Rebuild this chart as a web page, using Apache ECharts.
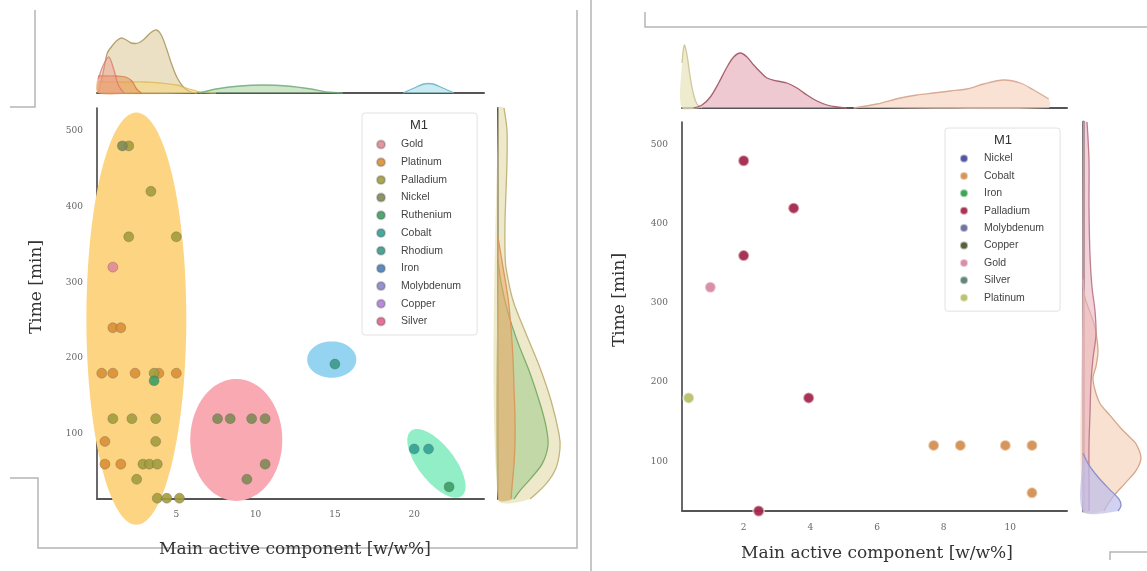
<!DOCTYPE html>
<html><head><meta charset="utf-8">
<script src="https://cdn.jsdelivr.net/npm/echarts@6/dist/echarts.min.js"></script>
<style>html,body{margin:0;padding:0;background:#fff}#c{width:1147px;height:571px}</style>
</head><body><div id="c"></div><script>
// ---------------- DATA: left panel (11 metals) ----------------
const leftMetals = ['Gold','Platinum','Palladium','Nickel','Ruthenium','Cobalt','Rhodium','Iron','Molybdenum','Copper','Silver'];
const lGold = [[1.0, 320]];
const lPlatinum = [[0.3,180],[1.0,180],[2.4,180],[3.9,180],[5.0,180],[1.0,240],[1.5,240],[0.5,90],[0.5,60],[1.5,60]];
const lPalladium = [[2.0,480],[3.4,420],[2.0,360],[5.0,360],[3.6,180],[1.0,120],[2.2,120],[3.7,120],[3.7,90],[2.9,60],[3.3,60],[3.8,60],[2.5,40],[3.8,15],[4.4,15],[5.2,15]];
const lNickel = [[1.6,480],[7.6,120],[8.4,120],[9.75,120],[10.6,120],[10.6,60],[9.45,40]];
const lRuthenium = [[3.6,170],[22.2,30]];
const lCobalt = [[20.0,80],[20.9,80]];
const lRhodium = [[15.0,192]];
const lIron = [];
const lMolybdenum = [];
const lCopper = [];
const lSilver = [];
// cluster regions: centre x, centre y, semi-axis u (x,y), semi-axis v (x,y) in data units
const lRegionYellow = [2.48, 252, 3.15, 0, 0, 272];
const lRegionPink = [8.78, 92, 2.9, 0, 0, 80.5];
const lRegionBlue = [14.8, 198, 1.55, 0, 0, 24];
const lRegionGreen = [21.4, 61, 1.6, -43, 0.9, 14.5];
// marginal densities, left panel: top = [x, density], right = [time, density]
const ltPalladium = [[0.08,0],[0.27,12],[0.46,26],[0.65,40],[0.9,46],[1.22,52],[1.53,55],[1.85,53],[2.16,50],[2.6,50],[2.98,54],[3.36,60],[3.74,63],[4.05,58],[4.37,45],[4.68,30],[5.06,15],[5.5,5],[5.95,1],[6.3,0]];
const ltPlatinum = [[0.08,11],[1,11],[2,11],[3,11],[4,10],[5,8],[5.8,4],[6.5,1],[7.5,0]];
const ltGold = [[0.08,17],[0.6,17],[1.2,17],[1.8,16],[2.2,12],[2.5,4],[2.8,0]];
const ltSilver = [[0.08,14],[0.4,28],[0.75,36],[1.05,24],[1.35,8],[1.7,0]];
const ltNickel = [[6.5,0],[7.5,4],[9,7],[10.5,8],[12,7],[13.5,4],[14.5,1],[15.5,0]];
const ltCobalt = [[19.3,0],[20,5],[20.6,9],[21.2,9],[21.8,5],[22.5,0]];
const lrPalladium = [[530,6],[500,9],[460,9],[420,8],[380,7],[340,7],[319,8],[276,15],[232,28],[187,42],[144,53],[100,61],[81,62],[55,58],[34,48],[14,32]];
const lrNickel = [[330,0],[300,3],[260,10],[220,20],[180,32],[140,42],[110,48],[85,50],[60,44],[40,32],[25,22],[14,16]];
const lrPlatinum = [[360,0],[320,5],[280,10],[240,13],[200,15],[160,16],[120,17],[90,17],[60,16],[30,14],[14,13]];

// ---------------- DATA: right panel (9 metals) ----------------
const rightMetals = ['Nickel','Cobalt','Iron','Palladium','Molybdenum','Copper','Gold','Silver','Platinum'];
const rNickel = [];
const rCobalt = [[7.7,120],[8.5,120],[9.85,120],[10.65,120],[10.65,60]];
const rIron = [];
const rPalladium = [[2.0,480],[3.5,420],[2.0,360],[3.95,180],[2.45,37]];
const rMolybdenum = [];
const rCopper = [];
const rGold = [[1.0,320]];
const rSilver = [];
const rPlatinum = [[0.35,180]];
const rtPlatinum = [[0.15,45],[0.22,63],[0.3,53],[0.4,30],[0.5,13],[0.6,4],[0.75,0]];
const rtPalladium = [[0.5,0],[0.75,3],[1.0,11],[1.25,25],[1.5,41],[1.7,51],[1.9,55],[2.1,51],[2.3,43],[2.5,36],[2.7,30],[3.0,27],[3.3,25],[3.6,20],[3.9,13],[4.2,7],[4.5,3],[4.8,1],[5.1,0]];
const rtCobalt = [[5.3,0],[6.0,4],[6.7,10],[7.2,13],[7.7,15],[8.2,17],[8.7,19],[9.2,24],[9.8,28],[10.3,25],[10.7,18],[11.15,9]];
const rrCobalt = [[330,0],[307,2],[285,8],[269,12],[240,15],[220,13],[206,10],[190,12],[173,17],[158,27],[143,37],[130,47],[122,53],[104,58],[88,53],[72,42],[55,30],[42,23],[37,21]];
const rrPalladium = [[529,4],[480,6],[420,6],[360,7],[320,9],[290,12],[260,13],[230,10],[200,8],[160,7],[120,6],[80,6],[37,6]];
const rrNickel = [[110,0],[95,6],[80,15],[65,26],[52,36],[44,38],[37,35]];

// ---------------- STYLE ----------------
const serif = '"DejaVu Serif", serif';
const sans = '"Liberation Sans", Arial, sans-serif';
const leftColors = ['#e08a96','#d98f34','#a29c3c','#7f8a55','#3e9c62','#34a095','#3a9a88','#4a80b8','#8a86c8','#b07fd6','#e0648c'];
const rightColors = ['#4b4b9e','#d49052','#35a050','#a2284c','#6a6aa0','#4d5a32','#d68aa2','#5a8070','#b8c06a'];
const leftData = [lGold,lPlatinum,lPalladium,lNickel,lRuthenium,lCobalt,lRhodium,lIron,lMolybdenum,lCopper,lSilver];
const rightData = [rNickel,rCobalt,rIron,rPalladium,rMolybdenum,rCopper,rGold,rSilver,rPlatinum];

function ellipseSeries(region, color) {
  return {type:'custom', name:'region', xAxisIndex:0, yAxisIndex:0, silent:true, z:1, clip:false,
    data:[[region[0], region[1]]],
    renderItem:function(params, api){
      const cx=region[0], cy=region[1], ux=region[2], uy=region[3], vx=region[4], vy=region[5];
      const pts=[];
      for(let i=0;i<120;i++){const t=i/120*2*Math.PI;
        pts.push(api.coord([cx+ux*Math.cos(t)+vx*Math.sin(t), cy+uy*Math.cos(t)+vy*Math.sin(t)]));}
      return {type:'polygon', shape:{points:pts}, style:{fill:color}};
    }};
}
function kde(name, xi, yi, pts, fill, stroke, vertical, z) {
  return {type:'custom', name:name, xAxisIndex:xi, yAxisIndex:yi, silent:true, z:z||2, clip:false,
    data: pts,
    renderItem:function(params, api){
      if (params.dataIndex !== 0) return null;
      const toXY = p => vertical ? api.coord([p[1], p[0]]) : api.coord([p[0], p[1]]);
      const curve = pts.map(toXY);
      const f = pts[0], l = pts[pts.length-1];
      const b0 = vertical ? api.coord([0, f[0]]) : api.coord([f[0], 0]);
      const b1 = vertical ? api.coord([0, l[0]]) : api.coord([l[0], 0]);
      return {type:'group', children:[
        {type:'polygon', shape:{points:[b0].concat(curve,[b1]), smooth:0.3}, style:{fill:fill}},
        {type:'polyline', shape:{points:curve, smooth:0.3}, style:{stroke:stroke, lineWidth:1.3, fill:null}}
      ]};
    }};
}

const series = [];
series.push(ellipseSeries(lRegionYellow, '#fdd482'));
series.push(ellipseSeries(lRegionPink, '#f8a9b1'));
series.push(ellipseSeries(lRegionBlue, '#94d4f0'));
series.push(ellipseSeries(lRegionGreen, '#92eec6'));
leftMetals.forEach((m,i)=>{
  series.push({type:'scatter', name:m, xAxisIndex:0, yAxisIndex:0, data:leftData[i], symbolSize:10, z:3,
    itemStyle:{color:leftColors[i], opacity:0.9, borderColor:'rgba(90,90,90,0.35)', borderWidth:1}});
});
rightMetals.forEach((m,i)=>{
  series.push({type:'scatter', name:m+' ', xAxisIndex:3, yAxisIndex:3, data:rightData[i], symbolSize:11, z:3,
    itemStyle:{color:rightColors[i], opacity:0.95, borderColor:'rgba(255,255,255,0.55)', borderWidth:2}});
});
// left top marginal
series.push(kde('ltPalladium',1,1,ltPalladium,'rgba(226,208,165,0.65)','#b3a26e',false,2));
series.push(kde('ltPlatinum',1,1,ltPlatinum,'rgba(245,212,115,0.5)','rgba(220,185,85,0.8)',false,3));
series.push(kde('ltGold',1,1,ltGold,'rgba(230,150,90,0.55)','rgba(212,128,70,0.85)',false,4));
series.push(kde('ltSilver',1,1,ltSilver,'rgba(238,150,140,0.4)','rgba(222,120,110,0.8)',false,5));
series.push(kde('ltNickel',1,1,ltNickel,'rgba(165,212,160,0.55)','rgba(110,170,120,0.85)',false,3));
series.push(kde('ltCobalt',1,1,ltCobalt,'rgba(172,226,236,0.65)','rgba(110,180,200,0.9)',false,3));
// left right marginal
series.push(kde('lrPalladium',2,2,lrPalladium,'rgba(228,218,170,0.6)','#c2b47c',true,2));
series.push(kde('lrNickel',2,2,lrNickel,'rgba(150,200,130,0.5)','#7fae6c',true,3));
series.push(kde('lrPlatinum',2,2,lrPlatinum,'rgba(236,168,100,0.55)','#d99a5c',true,4));
// right top marginal
series.push(kde('rtPlatinum',4,4,rtPlatinum,'rgba(232,228,190,0.75)','#cfc89a',false,2));
series.push(kde('rtPalladium',4,4,rtPalladium,'rgba(230,172,184,0.65)','#a8606e',false,3));
series.push(kde('rtCobalt',4,4,rtCobalt,'rgba(247,213,192,0.7)','#d9ab95',false,3));
// right right marginal
series.push(kde('rrCobalt',5,5,rrCobalt,'rgba(246,212,190,0.7)','#d6a68c',true,2));
series.push(kde('rrPalladium',5,5,rrPalladium,'rgba(232,175,190,0.55)','#c07d8e',true,3));
series.push(kde('rrNickel',5,5,rrNickel,'rgba(190,190,235,0.7)','#8f8fcc',true,4));

const tickLabel = {fontFamily: serif, fontSize: 9, color:'#666'};
function mainX(grid, min, max, step, margin){
  return {type:'value', gridIndex:grid, min:min, max:max, splitLine:{show:false}, axisTick:{show:false},
    axisLine:{show:true, onZero:false, lineStyle:{color:'#555', width:2}},
    axisLabel:Object.assign({margin:margin, formatter:v=> (v>0 && Math.abs(v/step-Math.round(v/step))<1e-6) ? String(v) : ''}, tickLabel)};
}
function mainY(grid, min, max, margin){
  return {type:'value', gridIndex:grid, min:min, max:max, splitNumber:5, splitLine:{show:false}, axisTick:{show:false},
    axisLine:{show:true, onZero:false, lineStyle:{color:'#444', width:1.6}},
    axisLabel:Object.assign({margin:margin, formatter:v=> (v%100===0) ? String(v) : ''}, tickLabel)};
}
const baseX = (grid,min,max,col,w) => ({type:'value', gridIndex:grid, min:min, max:max, splitLine:{show:false}, axisTick:{show:false}, axisLabel:{show:false}, axisLine:{show:true,onZero:false,lineStyle:{color:col,width:w}}});
const hideAx = (grid,min,max) => ({type:'value', gridIndex:grid, min:min, max:max, show:false});

const line = (pts) => ({type:'polyline', shape:{points:pts}, style:{stroke:'#b5b5b5', lineWidth:1.5, fill:null}, silent:true, z:0});
const option = {
  animation:false,
  backgroundColor:'#fff',
  grid:[
    {left:97, top:108, width:387, height:391},
    {left:97, top:28, width:387, height:65},
    {left:498, top:108, width:65, height:391},
    {left:682, top:122, width:385, height:389},
    {left:682, top:45, width:385, height:63},
    {left:1083, top:122, width:62, height:389}
  ],
  xAxis:[
    mainX(0, 0, 24.4, 5, 11),
    baseX(1, 0, 24.4, '#555', 2),
    hideAx(2, 0, 65),
    mainX(3, 0.15, 11.7, 2, 12),
    baseX(4, 0.15, 11.7, '#555', 2),
    hideAx(5, 0, 62)
  ],
  yAxis:[
    mainY(0, 14, 530, 14),
    hideAx(1, 0, 65),
    {type:'value', gridIndex:2, min:14, max:530, splitLine:{show:false}, axisTick:{show:false}, axisLabel:{show:false}, axisLine:{show:true,onZero:false,lineStyle:{color:'#555',width:2}}},
    mainY(3, 37, 529, 14),
    hideAx(4, 0, 63),
    {type:'value', gridIndex:5, min:37, max:529, splitLine:{show:false}, axisTick:{show:false}, axisLabel:{show:false}, axisLine:{show:true,onZero:false,lineStyle:{color:'#7a7a7a',width:3}}}
  ],
  legend:[
    {data:leftMetals, orient:'vertical', left:362, top:113, icon:'circle', itemWidth:8, itemHeight:8, itemGap:6.7,
     padding:[26, 16, 8, 14], borderColor:'#e2e2e2', borderWidth:1, borderRadius:3, backgroundColor:'rgba(255,255,255,0.85)',
     textStyle:{fontFamily:sans, fontSize:10.5, color:'#444', padding:[0,0,0,11]}, selectedMode:false, z:10},
    {data:rightMetals.map(m=>m+' '), orient:'vertical', left:945, top:128, icon:'circle', itemWidth:8, itemHeight:8, itemGap:6.4,
     padding:[25, 16, 8, 14], borderColor:'#e2e2e2', borderWidth:1, borderRadius:3, backgroundColor:'rgba(255,255,255,0.85)',
     formatter:n=>n.trim(),
     textStyle:{fontFamily:sans, fontSize:10.5, color:'#444', padding:[0,0,0,11]}, selectedMode:false, z:10}
  ],
  graphic:[
    line([[10,107],[35,107],[35,10]]),
    line([[10,478],[38,478],[38,548],[577,548],[577,10]]),
    line([[591,0],[591,571]]),
    line([[645,12],[645,27],[1147,27]]),
    line([[1147,552],[1110,552],[1110,560]]),
    {type:'text', x:419, y:125, z:100, silent:true, style:{text:'M1', fontFamily:sans, fontSize:13, fill:'#333', align:'center', verticalAlign:'middle'}},
    {type:'text', x:1003, y:140, z:100, silent:true, style:{text:'M1', fontFamily:sans, fontSize:13, fill:'#333', align:'center', verticalAlign:'middle'}},
    {type:'text', x:37, y:287, rotation:Math.PI/2, silent:true, style:{text:'Time [min]', fontFamily:serif, fontSize:17, fill:'#333', align:'center', verticalAlign:'middle'}},
    {type:'text', x:620, y:300, rotation:Math.PI/2, silent:true, style:{text:'Time [min]', fontFamily:serif, fontSize:17, fill:'#333', align:'center', verticalAlign:'middle'}},
    {type:'text', x:295, y:550, silent:true, style:{text:'Main active component [w/w%]', fontFamily:serif, fontSize:17, fill:'#333', align:'center', verticalAlign:'middle'}},
    {type:'text', x:877, y:554, silent:true, style:{text:'Main active component [w/w%]', fontFamily:serif, fontSize:17, fill:'#333', align:'center', verticalAlign:'middle'}}
  ],
  series:series
};
const chart = echarts.init(document.getElementById('c'));
chart.setOption(option);
</script></body></html>
